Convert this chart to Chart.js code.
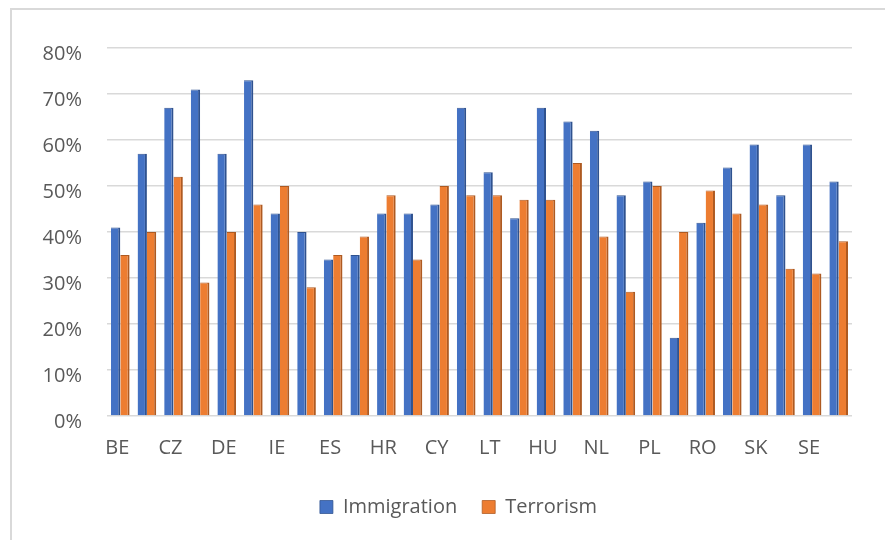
<!DOCTYPE html>
<html>
<head>
<meta charset="utf-8">
<script src="https://cdn.jsdelivr.net/npm/chart.js@4/dist/chart.umd.min.js"></script>
<style>
    html, body { margin: 0; padding: 0; background: #fff; overflow: hidden; }
    #frame {
        position: absolute; left: 10px; top: 8px;
        width: 900px; height: 560px;
        border-top: 2px solid #d9d9d9; border-left: 2px solid #d9d9d9;
    }
    #wrap { position: absolute; left: 0; top: 0; width: 885px; height: 540px; }
</style>
</head>
<body>
<div id="frame"></div>
<div id="wrap"><canvas id="chart" width="885" height="540"></canvas></div>
<script>
    // country codes (only every other one is printed on the axis)
    const countries = ['BE', 'BG', 'CZ', 'DK', 'DE', 'EE', 'IE', 'EL', 'ES', 'FR',
        'HR', 'IT', 'CY', 'LV', 'LT', 'LU', 'HU', 'MT', 'NL', 'AT',
        'PL', 'PT', 'RO', 'SI', 'SK', 'FI', 'SE', 'UK'];

    const immigration = [41, 57, 67, 71, 57, 73, 44, 40, 34, 35,
        44, 44, 46, 67, 53, 43, 67, 64, 62, 48,
        51, 17, 42, 54, 59, 48, 59, 51];

    const terrorism = [35, 40, 52, 29, 40, 46, 50, 28, 35, 39,
        48, 34, 50, 48, 48, 47, 47, 55, 39, 27,
        50, 40, 49, 44, 46, 32, 31, 38];

    const yTicks = [0, 10, 20, 30, 40, 50, 60, 70, 80];

    const textColor = '#595959';
    const font = { family: "'Open Sans', 'Noto Sans', sans-serif", size: 20 };

    new Chart(document.getElementById('chart'), {
        type: 'bar',
        data: {
            labels: countries,
            datasets: [
                {
                    label: 'Immigration',
                    data: immigration,
                    backgroundColor: '#4472c4',
                    borderColor: '#2f528f',
                    borderWidth: { right: 2, top: 1 },
                    categoryPercentage: 0.7,
                    barPercentage: 1
                },
                {
                    label: 'Terrorism',
                    data: terrorism,
                    backgroundColor: '#ed7d31',
                    borderColor: '#ae5a21',
                    borderWidth: { right: 2, top: 1 },
                    categoryPercentage: 0.7,
                    barPercentage: 1
                }
            ]
        },
        options: {
            responsive: false,
            animation: false,
            layout: { padding: { left: 32, right: 0, top: 48, bottom: 13 } },
            scales: {
                x: {
                    grid: { display: false, drawTicks: false },
                    border: { display: false },
                    ticks: {
                        color: textColor,
                        font: font,
                        autoSkip: false,
                        maxRotation: 0,
                        padding: 20,
                        labelOffset: -3,
                        callback: function(v, i) { return i % 2 === 0 ? countries[i] : ''; }
                    },
                    afterFit: function(scale) { scale.height = 56; }
                },
                y: {
                    min: 0,
                    max: 80,
                    afterBuildTicks: function(scale) {
                        scale.ticks = yTicks.map(v => ({ value: v }));
                    },
                    grid: { color: '#d9d9d9', lineWidth: 1.5, drawTicks: false },
                    border: { display: false },
                    ticks: {
                        color: textColor,
                        font: font,
                        padding: 25,
                        labelOffset: 6,
                        callback: v => v + '%'
                    },
                    afterFit: function(scale) { scale.width = 75; }
                },
                // empty right-hand axis: only reserves the blank strip right of the plot
                yRight: {
                    position: 'right',
                    grid: { display: false, drawTicks: false },
                    border: { display: false },
                    ticks: { display: false },
                    afterFit: function(scale) { scale.width = 33; }
                }
            },
            plugins: {
                legend: {
                    position: 'bottom',
                    labels: {
                        color: textColor,
                        font: font,
                        boxWidth: 13,
                        boxHeight: 13,
                        padding: 25
                    }
                },
                tooltip: { enabled: false }
            }
        }
    });
</script>
</body>
</html>
